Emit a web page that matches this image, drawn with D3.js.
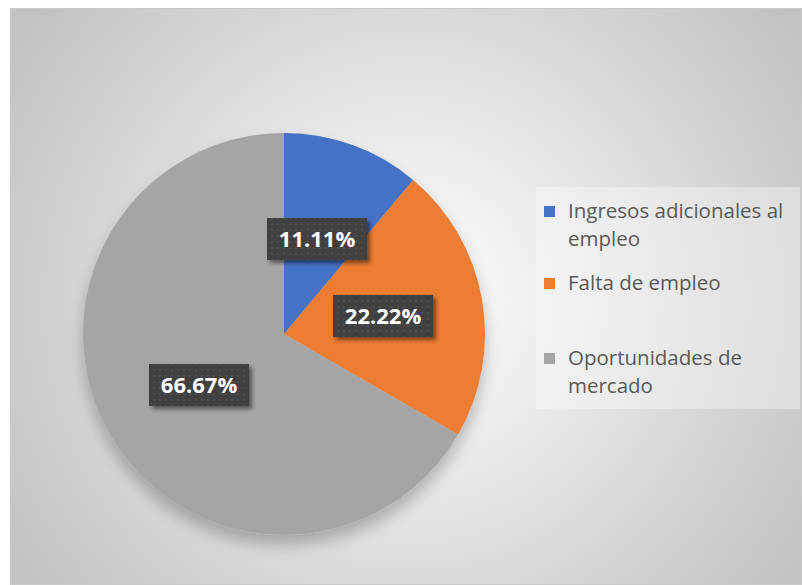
<!DOCTYPE html>
<html>
<head>
<script src="https://d3js.org/d3.v7.min.js"></script>
<style>
body { margin: 0; background: #fff; }
svg { display: block; }
</style>
</head>
<body>
<script>
var categories = ["Ingresos adicionales al empleo", "Falta de empleo", "Oportunidades de mercado"];
var values = [11.11, 22.22, 66.67];
var labels = ["11.11%", "22.22%", "66.67%"];
var legendLines = [["Ingresos adicionales al", "empleo"], ["Falta de empleo"], ["Oportunidades de", "mercado"]];
var colors = ["#4472c4", "#ed7d31", "#a5a5a5"];

var W = 802, H = 585;
var svg = d3.select("body").append("svg").attr("width", W).attr("height", H);
var defs = svg.append("defs");

var bg = defs.append("radialGradient").attr("id", "bg")
    .attr("gradientUnits", "userSpaceOnUse")
    .attr("cx", 410).attr("cy", 300).attr("r", 470);
bg.append("stop").attr("offset", "0%").attr("stop-color", "#ffffff");
bg.append("stop").attr("offset", "100%").attr("stop-color", "#c2c2c2");

var pat = defs.append("pattern").attr("id", "dots")
    .attr("patternUnits", "userSpaceOnUse").attr("width", 6).attr("height", 6);
pat.append("rect").attr("width", 6).attr("height", 6).attr("fill", "#404040");
pat.append("rect").attr("x", 2).attr("y", 2).attr("width", 2).attr("height", 2).attr("fill", "#4d4d4d");

var sh = defs.append("filter").attr("id", "shadow").attr("x", "-20%").attr("y", "-20%").attr("width", "140%").attr("height", "150%");
sh.append("feGaussianBlur").attr("in", "SourceAlpha").attr("stdDeviation", 8);
sh.append("feOffset").attr("dx", 0).attr("dy", 10).attr("result", "b");
sh.append("feComponentTransfer").append("feFuncA").attr("type", "linear").attr("slope", 0.25);
var m = sh.append("feMerge"); m.append("feMergeNode"); m.append("feMergeNode").attr("in", "SourceGraphic");

var lsh = defs.append("filter").attr("id", "lshadow").attr("x", "-20%").attr("y", "-30%").attr("width", "150%").attr("height", "170%");
lsh.append("feGaussianBlur").attr("in", "SourceAlpha").attr("stdDeviation", 2);
lsh.append("feOffset").attr("dx", 3).attr("dy", 3);
lsh.append("feComponentTransfer").append("feFuncA").attr("type", "linear").attr("slope", 0.5);
var m2 = lsh.append("feMerge"); m2.append("feMergeNode"); m2.append("feMergeNode").attr("in", "SourceGraphic");

// chart area
svg.append("rect").attr("x", 10.5).attr("y", 8.5).attr("width", W - 11).attr("height", H - 9)
    .attr("fill", "url(#bg)").attr("stroke", "#c8c8c8").attr("stroke-width", 1);

var cx = 284, cy = 334, r = 201;
var pie = d3.pie().sort(null).value(function(d) { return d; });
var arcs = pie(values);
var arc = d3.arc().innerRadius(0).outerRadius(r);

var g = svg.append("g").attr("transform", "translate(" + cx + "," + cy + ")");
g.append("g").attr("filter", "url(#shadow)").selectAll("path")
    .data(arcs).enter().append("path")
    .attr("d", arc)
    .attr("fill", function(d, i) { return colors[i]; });

// data labels (offsets from pie centre, as placed in the original)
var labelPos = [[33, -95], [99, -18], [-85, 51]];
var lab = g.selectAll(".lab").data(arcs).enter().append("g")
    .attr("class", "lab")
    .attr("transform", function(d, i) { return "translate(" + labelPos[i][0] + "," + labelPos[i][1] + ")"; });
lab.append("rect")
    .attr("x", -50).attr("y", -21).attr("width", 100).attr("height", 42)
    .attr("fill", "url(#dots)").attr("filter", "url(#lshadow)");
lab.append("text")
    .attr("text-anchor", "middle").attr("dy", "0.36em")
    .attr("fill", "#ffffff")
    .style("font-family", "'Open Sans', sans-serif")
    .style("font-weight", "bold").style("font-size", "22px")
    .text(function(d, i) { return labels[i]; });

// legend
svg.append("rect").attr("x", 536).attr("y", 187).attr("width", 264).attr("height", 222)
    .attr("fill", "#ffffff").attr("fill-opacity", 0.35);
var legY = [211, 283, 358];
var leg = svg.selectAll(".leg").data(categories).enter().append("g")
    .attr("class", "leg")
    .attr("transform", function(d, i) { return "translate(544," + legY[i] + ")"; });
leg.append("rect").attr("x", 0).attr("y", -5).attr("width", 11).attr("height", 11)
    .attr("fill", function(d, i) { return colors[i]; });
leg.each(function(d, i) {
    var t = d3.select(this).append("text")
        .attr("fill", "#595959")
        .style("font-family", "'Open Sans', sans-serif")
        .style("font-size", "20.5px");
    legendLines[i].forEach(function(line, j) {
        t.append("tspan").attr("x", 24).attr("y", j * 28).attr("dy", "0.35em").text(line);
    });
});
</script>
</body>
</html>
